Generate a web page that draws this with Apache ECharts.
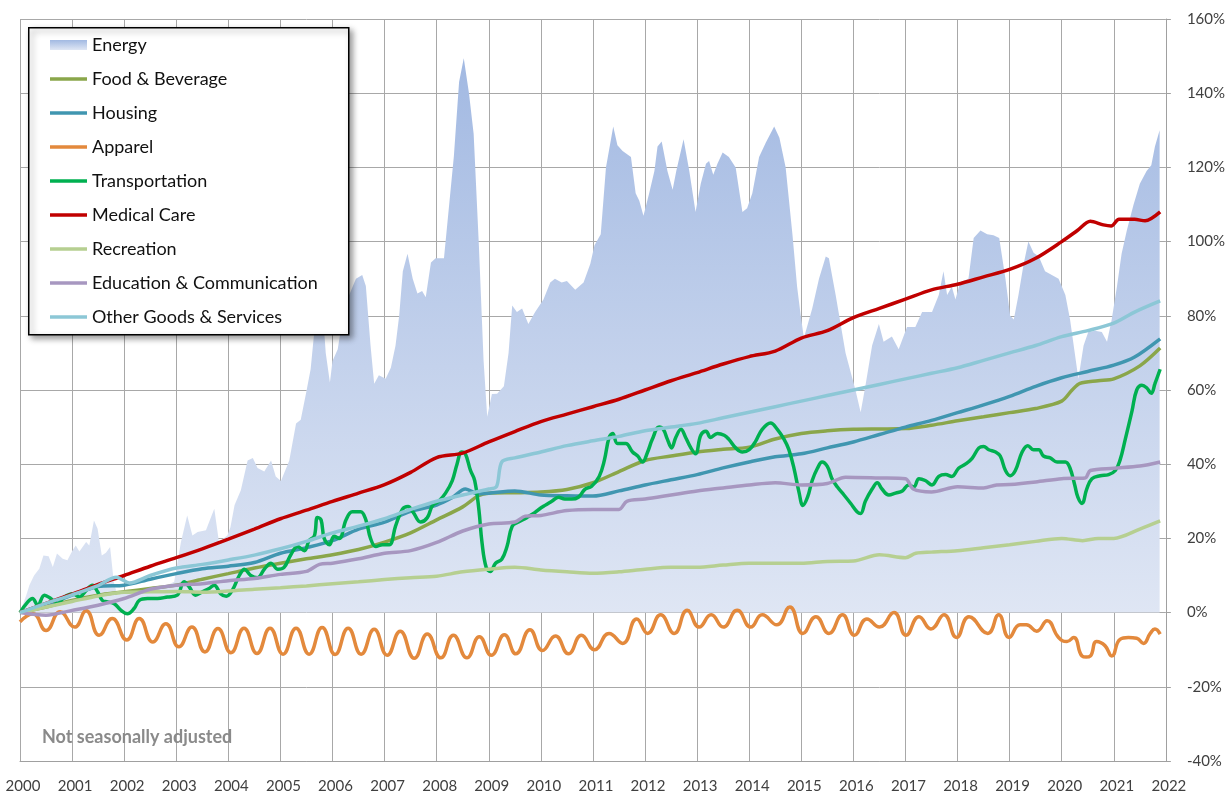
<!DOCTYPE html>
<html>
<head>
<meta charset="utf-8">
<title>CPI components, cumulative change since 2000</title>
<script src="https://cdn.jsdelivr.net/npm/echarts@6/dist/echarts.min.js"></script>
<style>
  html, body { margin: 0; padding: 0; background: #fff; }
  #chart { width: 1228px; height: 794px; }
</style>
</head>
<body>
<div id="chart"></div>
<script>
// Cumulative % change since January 2000, by CPI component (not seasonally adjusted).
// Each point is [decimal year, percent].

const yearTicks = { min: 2000, max: 2022, step: 1 };
const pctTicks = { min: -40, max: 160, step: 20 };

const seriesNames = [
  'Energy', 'Food & Beverage', 'Housing', 'Apparel', 'Transportation',
  'Medical Care', 'Recreation', 'Education & Communication', 'Other Goods & Services'
];

const energy = [
  [2000.00,0],[2000.12,4.7],[2000.18,7.4],[2000.27,10],[2000.37,11.8],[2000.45,15.4],[2000.55,15.2],
  [2000.63,12.3],[2000.71,15.9],[2000.82,14.5],[2000.91,14.1],[2001.01,16.8],[2001.07,18.1],[2001.14,16.5],
  [2001.27,19],[2001.33,18.1],[2001.42,24.8],[2001.49,22.6],[2001.57,15.4],[2001.65,16.1],[2001.73,17.7],
  [2001.80,8.3],[2001.87,4.7],[2002.00,5.6],[2002.19,4.7],[2002.45,5.6],[2002.70,6.5],[2002.96,8.3],
  [2003.09,19],[2003.21,26.2],[2003.31,20.8],[2003.41,21.7],[2003.57,22.2],[2003.73,28],[2003.82,19],
  [2003.98,20.8],[2004.04,23],[2004.12,29],[2004.24,33],[2004.37,41],[2004.47,41.7],[2004.56,39],
  [2004.69,38],[2004.82,41],[2004.91,36.7],[2005.01,35.5],[2005.17,41],[2005.30,51],[2005.39,52],
  [2005.49,59],[2005.58,65.6],[2005.68,80],[2005.73,88],[2005.80,84],[2005.87,70],[2005.95,62],
  [2006.00,67.8],[2006.10,71],[2006.19,79],[2006.32,85.6],[2006.45,90],[2006.57,91],[2006.64,88],
  [2006.73,72],[2006.80,61.7],[2006.89,64],[2007.02,63],[2007.12,66],[2007.21,72],[2007.28,80],
  [2007.35,92],[2007.44,96.7],[2007.54,90],[2007.63,86],[2007.72,86.7],[2007.79,85],[2007.89,94.4],
  [2007.98,95.5],[2008.14,95.5],[2008.24,110],[2008.33,123],[2008.43,143],[2008.52,149.4],[2008.62,140],
  [2008.71,129],[2008.81,99],[2008.90,68],[2008.97,52.8],[2009.06,58.9],[2009.16,59],[2009.29,61],
  [2009.38,70],[2009.45,82.8],[2009.54,81],[2009.64,82],[2009.76,77.8],[2009.89,81],[2010.05,84.4],
  [2010.18,89],[2010.27,90],[2010.40,89],[2010.50,89.4],[2010.66,87],[2010.82,89],[2010.95,94],
  [2011.03,99],[2011.15,102],[2011.25,120],[2011.39,131],[2011.47,126],[2011.57,124.4],[2011.73,122.8],
  [2011.82,113],[2011.89,111],[2011.97,107],[2012.08,113],[2012.18,119],[2012.24,125.6],[2012.32,127],
  [2012.43,119],[2012.53,114],[2012.60,119],[2012.74,127.6],[2012.85,119],[2012.97,108],[2013.07,115.6],
  [2013.17,121],[2013.23,121.7],[2013.31,118],[2013.39,121],[2013.49,124],[2013.61,122.8],[2013.74,120],
  [2013.87,108],[2013.96,109],[2014.06,113],[2014.19,122.8],[2014.32,126.7],[2014.48,131],[2014.58,128],
  [2014.70,120],[2014.83,102],[2014.92,87.8],[2014.99,80],[2015.05,74],[2015.21,82],[2015.34,90],
  [2015.47,96],[2015.53,95.5],[2015.66,85.6],[2015.85,70],[2016.04,60],[2016.14,54],[2016.23,61],
  [2016.36,72],[2016.49,77.8],[2016.58,73],[2016.74,74.4],[2016.87,71],[2017.03,77],[2017.19,77],
  [2017.32,81],[2017.51,81],[2017.64,85.6],[2017.73,92],[2017.80,85.6],[2017.89,87.8],[2017.96,84.4],
  [2018.05,89],[2018.21,90],[2018.31,101],[2018.44,103],[2018.57,102],[2018.69,101.7],[2018.80,101],
  [2018.92,90],[2019.01,80],[2019.08,79],[2019.17,85.6],[2019.27,94],[2019.36,100],[2019.46,97],
  [2019.56,96],[2019.68,92],[2019.81,91],[2019.94,90],[2020.07,85.6],[2020.16,79],[2020.26,69],
  [2020.32,63],[2020.42,72],[2020.51,75.6],[2020.64,76],[2020.77,75.6],[2020.87,73],[2020.96,79],
  [2021.06,87.8],[2021.15,96.7],[2021.25,103],[2021.38,110],[2021.50,115.6],[2021.63,119],[2021.72,120.6],
  [2021.79,125.6],[2021.88,130]
];

const foodBeverage = [
  [2000,0],[2000.5,1.5],[2001,3.3],[2001.5,4.7],[2002,5.6],[2002.5,6.5],[2003,7.4],[2003.5,9],
  [2004,10.5],[2004.5,12],[2005,13.3],[2005.5,14.5],[2006,15.6],[2006.5,17],[2007,19],[2007.5,21.5],
  [2008,25],[2008.5,28.5],[2008.8,31.5],[2009,32.2],[2009.5,32.3],[2010,32.5],[2010.5,33.2],[2011,35],
  [2011.5,38],[2012,41],[2012.5,42.2],[2013,43.3],[2013.5,44],[2014,44.6],[2014.5,46.8],[2015,48.3],
  [2015.5,49],[2016,49.4],[2016.5,49.5],[2017,49.6],[2017.5,50.5],[2018,51.7],[2018.5,52.8],[2019,53.9],
  [2019.5,55],[2020,57],[2020.2,60],[2020.35,61.8],[2020.7,62.5],[2021,63],[2021.5,66.5],[2021.89,71.3]
];

const housing = [
  [2000,0],[2000.5,2],[2001,4.7],[2001.5,7],[2002,7.4],[2002.5,9],[2003,10.5],[2003.5,11.8],
  [2004,12.5],[2004.5,13.5],[2005,16],[2005.5,17.5],[2006,19.4],[2006.5,22.5],[2007,24.4],[2007.5,27.3],
  [2008,29],[2008.3,31],[2008.55,33.3],[2008.8,32],[2009,32.2],[2009.5,32.8],[2010,31.7],[2010.5,31.5],
  [2011,31.4],[2011.5,32.8],[2012,34.4],[2012.5,35.8],[2013,37.2],[2013.5,39],[2014,40.6],[2014.5,42],
  [2015,42.8],[2015.5,44.4],[2016,46],[2016.5,48],[2017,50],[2017.5,51.8],[2018,53.9],[2018.5,56],
  [2019,58.3],[2019.5,61],[2020,63.3],[2020.5,65],[2021,66.7],[2021.4,68.9],[2021.89,73.8]
];

const apparel = [
  [2000.0,-2.5],[2000.25,-0.3],[2000.5,-4.8],[2000.77,0.2],
  [2001.05,-3.9],[2001.27,0.5],[2001.52,-6.1],[2001.77,-1.6],
  [2002.05,-7.4],[2002.29,-1.6],[2002.55,-7.9],[2002.8,-3.0],
  [2003.05,-9.2],[2003.3,-3.9],[2003.55,-10.6],[2003.8,-4.3],
  [2004.05,-10.8],[2004.3,-4.2],[2004.55,-11.0],[2004.8,-4.2],
  [2005.05,-11.2],[2005.3,-4.2],[2005.55,-11.2],[2005.8,-4.0],
  [2006.05,-11.3],[2006.3,-4.2],[2006.55,-11.2],[2006.8,-4.5],
  [2007.05,-11.5],[2007.3,-5.0],[2007.57,-12.3],[2007.82,-5.8],
  [2008.08,-12.2],[2008.32,-6.1],[2008.58,-12.2],[2008.82,-6.5],
  [2009.05,-11.5],[2009.3,-6.0],[2009.52,-11.1],[2009.79,-4.6],
  [2010.03,-10.2],[2010.28,-6.3],[2010.53,-11.1],[2010.78,-6.1],
  [2011.03,-10.0],[2011.31,-5.6],[2011.57,-8.3],[2011.84,-1.7],
  [2012.05,-5.6],[2012.3,-0.6],[2012.56,-5.6],[2012.81,0.6],
  [2013.04,-3.9],[2013.27,-0.6],[2013.5,-3.9],[2013.77,0.6],
  [2014.03,-3.9],[2014.25,-0.6],[2014.53,-3.3],[2014.78,1.5],
  [2015.03,-5.6],[2015.28,-1.1],[2015.53,-5.6],[2015.79,-0.6],
  [2016.02,-6.1],[2016.26,-1.7],[2016.5,-3.9],[2016.78,0.0],
  [2017.01,-6.1],[2017.26,-1.1],[2017.49,-4.4],[2017.74,-0.6],
  [2017.98,-6.7],[2018.22,-1.1],[2018.58,-5.6],[2018.79,-0.6],
  [2018.99,-6.7],[2019.2,-3.3],[2019.32,-3.3],[2019.52,-5.0],[2019.72,-2.2],[2019.94,-6.7],
  [2020.1,-7.8],[2020.23,-6.7],[2020.39,-11.7],[2020.47,-12.0],[2020.55,-11.7],[2020.67,-7.8],
  [2020.83,-8.9],[2020.96,-11.7],[2021.12,-7.2],[2021.28,-6.7],[2021.44,-6.9],[2021.57,-8.3],
  [2021.7,-5.6],[2021.79,-4.4],[2021.89,-5.8]
];

const transportation = [
  [2000.00,0],[2000.15,2.9],[2000.24,3.8],[2000.34,2],[2000.47,4.7],[2000.59,3.8],[2000.72,2.4],
  [2000.85,4.2],[2001.01,5.1],[2001.14,4.2],[2001.27,6],[2001.39,7.4],[2001.49,5.6],[2001.58,3.3],
  [2001.68,2.9],[2001.81,2.4],[2001.94,0.6],[2002.06,-0.3],[2002.19,1.1],[2002.29,3.3],[2002.45,3.8],
  [2002.64,3.8],[2002.83,4.2],[2003.02,4.7],[2003.15,8.3],[2003.25,6.9],[2003.37,4.7],[2003.50,5.6],
  [2003.63,6.5],[2003.73,7.4],[2003.85,5.1],[2003.96,4.4],[2004.08,6.1],[2004.21,10],[2004.31,11.7],
  [2004.43,10],[2004.56,9.4],[2004.69,11.7],[2004.82,13.3],[2004.95,11.7],[2005.07,12.2],[2005.20,15.6],
  [2005.33,17.8],[2005.46,16.7],[2005.55,19.4],[2005.65,20.6],[2005.71,25.6],[2005.78,25],[2005.84,20],
  [2005.94,18.3],[2006.03,20.6],[2006.13,20],[2006.26,25],[2006.38,27.2],[2006.54,27.2],[2006.64,25],
  [2006.73,20],[2006.83,17.8],[2006.96,18.3],[2007.09,18.3],[2007.21,23.3],[2007.34,27.8],[2007.45,28.6],
  [2007.55,27],[2007.69,24.4],[2007.82,25.6],[2007.92,28.9],[2008.04,30],[2008.17,32.2],[2008.30,35.6],
  [2008.39,40],[2008.48,43.3],[2008.55,42.8],[2008.65,38.3],[2008.73,35.6],[2008.81,27.8],[2008.87,18.9],
  [2008.95,12.2],[2009.03,11.1],[2009.13,13.3],[2009.25,14.4],[2009.35,17.8],[2009.45,23.3],[2009.57,24.4],
  [2009.73,25.6],[2009.86,26.7],[2009.96,27.8],[2010.08,28.9],[2010.21,30],[2010.34,31.1],[2010.46,30.6],
  [2010.59,30.6],[2010.72,31.1],[2010.85,33.3],[2010.97,34],[2011.12,36.7],[2011.22,41.1],[2011.31,47.2],
  [2011.38,48.3],[2011.47,45.6],[2011.63,45.6],[2011.76,43.3],[2011.86,42.2],[2011.95,40.6],[2012.05,43.3],
  [2012.14,46.7],[2012.27,50],[2012.35,49.4],[2012.43,46.7],[2012.51,44.4],[2012.59,47.2],[2012.69,49.4],
  [2012.78,47.2],[2012.88,44.4],[2012.97,42.8],[2013.07,47.8],[2013.17,48.9],[2013.26,47.2],[2013.39,48.3],
  [2013.52,47.8],[2013.61,46.7],[2013.74,44.4],[2013.87,43.3],[2014.00,43.9],[2014.12,46.1],[2014.25,49.4],
  [2014.41,51.1],[2014.54,49.4],[2014.67,46.7],[2014.76,44],[2014.86,38.9],[2014.96,32.2],[2015.03,28.9],
  [2015.12,31.1],[2015.21,35.6],[2015.31,38.9],[2015.40,40.6],[2015.50,39.4],[2015.59,36.1],[2015.69,33.9],
  [2015.82,31.7],[2015.95,29.4],[2016.07,27.2],[2016.14,26.7],[2016.23,30],[2016.36,33.3],[2016.46,35],
  [2016.55,33.3],[2016.68,31.7],[2016.81,32.2],[2016.94,32.8],[2017.06,34.4],[2017.16,33.9],[2017.26,36.1],
  [2017.38,35.6],[2017.51,34.4],[2017.64,36.7],[2017.77,37.2],[2017.89,36.7],[2018.02,38.9],[2018.15,40],
  [2018.28,41.6],[2018.41,44.4],[2018.50,44.8],[2018.60,43.9],[2018.73,43.3],[2018.82,42.2],[2018.92,38.3],
  [2019.01,36.9],[2019.11,38.3],[2019.24,43.3],[2019.35,45],[2019.46,43.9],[2019.56,43.9],[2019.65,42.2],
  [2019.78,41.7],[2019.91,40.6],[2020.07,40.6],[2020.16,38.9],[2020.25,34.4],[2020.31,31.1],[2020.39,29.4],
  [2020.48,33.3],[2020.58,36.1],[2020.74,36.9],[2020.90,37.2],[2021.03,38.3],[2021.12,41.1],[2021.22,46.7],
  [2021.35,54.4],[2021.44,60],[2021.54,61.3],[2021.63,60.6],[2021.72,59.1],[2021.79,61.7],[2021.89,65.6]
];

const medicalCare = [
  [2000,0],[2000.5,2.5],[2001,5],[2001.5,7.6],[2002,10],[2002.5,12.5],[2003,14.8],[2003.5,17.2],
  [2004,19.8],[2004.5,22.5],[2005,25.3],[2005.5,27.6],[2006,30],[2006.5,32.2],[2007,34.5],[2007.5,37.8],
  [2008,41.8],[2008.5,43],[2009,46],[2009.5,48.8],[2010,51.5],[2010.5,53.5],[2011,55.5],[2011.5,57.5],
  [2012,60],[2012.5,62.5],[2013,64.7],[2013.5,67],[2014,69],[2014.5,70.5],[2015,74],[2015.5,76],
  [2016,79.5],[2016.5,82],[2017,84.5],[2017.5,87],[2018,88.5],[2018.5,90.5],[2019,92.5],[2019.5,95.5],
  [2020,100],[2020.3,103],[2020.55,105.5],[2020.8,104.5],[2020.95,104.2],[2021.1,106],[2021.4,106],
  [2021.6,105.6],[2021.89,108]
];

const recreation = [
  [2000,0],[2000.5,1.5],[2001,3],[2001.5,4.5],[2002,5.5],[2002.5,5.6],[2003,5.7],[2003.5,5.5],
  [2004,5.8],[2004.5,6.3],[2005,6.7],[2005.5,7.2],[2006,7.8],[2006.5,8.3],[2007,8.9],[2007.5,9.4],
  [2008,9.8],[2008.5,11],[2009,11.7],[2009.5,12.2],[2010,11.5],[2010.5,11],[2011,10.6],[2011.5,11],
  [2012,11.7],[2012.5,12.2],[2013,12.2],[2013.5,12.8],[2014,13.3],[2014.5,13.3],[2015,13.3],[2015.5,13.8],
  [2016,13.9],[2016.5,15.6],[2017,14.8],[2017.2,16],[2017.5,16.3],[2018,16.7],[2018.5,17.5],[2019,18.3],
  [2019.5,19.2],[2020,20],[2020.4,19.4],[2020.7,20],[2021,20],[2021.5,22.5],[2021.89,24.7]
];

const educationComm = [
  [2000,0],[2000.5,-0.7],[2001,0.6],[2001.5,2],[2002,3.8],[2002.5,6.3],[2003,7.4],[2003.5,7.8],
  [2004,8.6],[2004.5,9.2],[2005,10.3],[2005.5,11.1],[2005.75,13],[2006,13.3],[2006.5,14.5],[2007,16],
  [2007.5,16.7],[2008,18.9],[2008.5,22],[2009,23.9],[2009.5,24.4],[2009.7,26],[2010,26.2],[2010.5,27.5],
  [2011,27.8],[2011.5,27.8],[2011.65,30],[2012,30.6],[2012.5,31.7],[2013,32.8],[2013.5,33.6],[2014,34.4],
  [2014.5,35],[2015,34.4],[2015.5,34.8],[2015.85,36.5],[2016.5,36.3],[2017,36.1],[2017.15,33.3],
  [2017.5,32.5],[2018,33.9],[2018.5,33.6],[2018.75,34.4],[2019,34.5],[2019.5,35.2],[2020,36.1],
  [2020.45,36.3],[2020.55,38.3],[2021,38.9],[2021.5,39.5],[2021.89,40.6]
];

const otherGoods = [
  [2000,0],[2000.5,2.5],[2001,4.8],[2001.5,7.3],[2001.85,9.5],[2002.1,8],[2002.5,10],[2003,12],
  [2003.5,13],[2004,14.2],[2004.5,15.5],[2005,17.2],[2005.5,19.2],[2006,21.5],[2006.5,23.3],[2007,25.3],
  [2007.5,27.8],[2008,30],[2008.5,31.7],[2009,33.3],[2009.15,34],[2009.25,40.6],[2009.5,41.7],[2010,43.3],
  [2010.5,45],[2011,46.3],[2011.5,47.5],[2012,49],[2012.5,50],[2013,51],[2013.5,52.5],[2014,54],
  [2014.5,55.5],[2015,57],[2015.5,58.5],[2016,60],[2016.5,61.5],[2017,63],[2017.5,64.5],[2018,66],
  [2018.5,68],[2019,70],[2019.5,72],[2020,74.4],[2020.5,76],[2021,78],[2021.4,81],[2021.89,84]
];

const lineColors = {
  'Food & Beverage': '#8aa64a',
  'Housing': '#4096b0',
  'Apparel': '#e3893c',
  'Transportation': '#00b050',
  'Medical Care': '#c00000',
  'Recreation': '#b6cf91',
  'Education & Communication': '#a797c0',
  'Other Goods & Services': '#8cc7d6'
};

const energyFill = {
  type: 'linear', x: 0, y: 0, x2: 0, y2: 1,
  colorStops: [{ offset: 0, color: '#a2b9e2' }, { offset: 1, color: '#dfe6f4' }]
};

// thin horizontal bar used as the legend key for each line
const lineKey = 'path://M0,0L37,0L37,3.5L0,3.5Z';

function lineSeries(name, data, width, smooth) {
  return {
    name, type: 'line', data,
    symbol: 'none', smooth,
    lineStyle: { color: lineColors[name], width },
    itemStyle: { color: lineColors[name] },
    emphasis: { disabled: true }
  };
}

const font = 'Lato';

const option = {
  animation: false,
  backgroundColor: '#ffffff',
  grid: { left: 20, right: 61, top: 19, bottom: 32, containLabel: false },
  xAxis: {
    type: 'value', min: yearTicks.min, max: yearTicks.max, interval: yearTicks.step,
    axisLine: { show: true, onZero: false, lineStyle: { color: '#a0a0a0', width: 1 } },
    axisTick: { show: false },
    splitLine: { show: true, lineStyle: { color: '#a8a8a8', width: 1 } },
    axisLabel: {
      formatter: v => String(v), fontFamily: font, fontSize: 15, color: '#404040',
      margin: 18, padding: [0, 0, 0, 6]
    }
  },
  yAxis: {
    type: 'value', position: 'right', min: pctTicks.min, max: pctTicks.max, interval: pctTicks.step,
    axisLine: { show: true, onZero: false, lineStyle: { color: '#a0a0a0', width: 1 } },
    axisTick: { show: true, inside: false, length: 5, lineStyle: { color: '#a0a0a0' } },
    splitLine: { show: true, lineStyle: { color: '#a8a8a8', width: 1 } },
    axisLabel: { formatter: '{value}%', fontFamily: font, fontSize: 15, color: '#404040', margin: 21 }
  },
  legend: {
    orient: 'vertical', left: 50, top: 35, padding: 0,
    itemWidth: 37, itemHeight: 10, itemGap: 14,
    textStyle: { fontFamily: font, fontSize: 18, color: '#111', lineHeight: 20 },
    itemStyle: { borderWidth: 0 },
    selectedMode: false,
    data: [
      { name: 'Energy', icon: 'rect', itemStyle: { color: energyFill, borderWidth: 0 } },
      ...seriesNames.slice(1).map(name => ({ name, icon: lineKey }))
    ]
  },
  graphic: [
    {
      type: 'rect', left: 28, top: 27, z: 3,
      shape: { width: 320, height: 307 },
      style: {
        fill: '#ffffff', stroke: '#000000', lineWidth: 1.5,
        shadowBlur: 6, shadowOffsetX: 3, shadowOffsetY: 3, shadowColor: 'rgba(0,0,0,0.4)'
      }
    },
    {
      type: 'text', left: 42, top: 728, z: 3,
      style: { text: 'Not seasonally adjusted', font: 'bold 18px Lato', fill: '#8a8a8a' }
    }
  ],
  series: [
    {
      name: 'Energy', type: 'line', data: energy, symbol: 'none', smooth: false,
      lineStyle: { width: 0 }, itemStyle: { color: '#a4bbe3' },
      areaStyle: { color: energyFill, opacity: 1 },
      emphasis: { disabled: true }, z: 1
    },
    lineSeries('Food & Beverage', foodBeverage, 3.5, 0.3),
    lineSeries('Housing', housing, 3.5, 0.3),
    lineSeries('Apparel', apparel, 3.5, 0.5),
    lineSeries('Transportation', transportation, 3.5, 0.4),
    lineSeries('Medical Care', medicalCare, 3.5, 0.3),
    lineSeries('Recreation', recreation, 3.5, 0.3),
    lineSeries('Education & Communication', educationComm, 3.5, 0.3),
    lineSeries('Other Goods & Services', otherGoods, 3.5, 0.3)
  ]
};

const chart = echarts.init(document.getElementById('chart'), null, { renderer: 'canvas' });
chart.setOption(option);
</script>
</body>
</html>
